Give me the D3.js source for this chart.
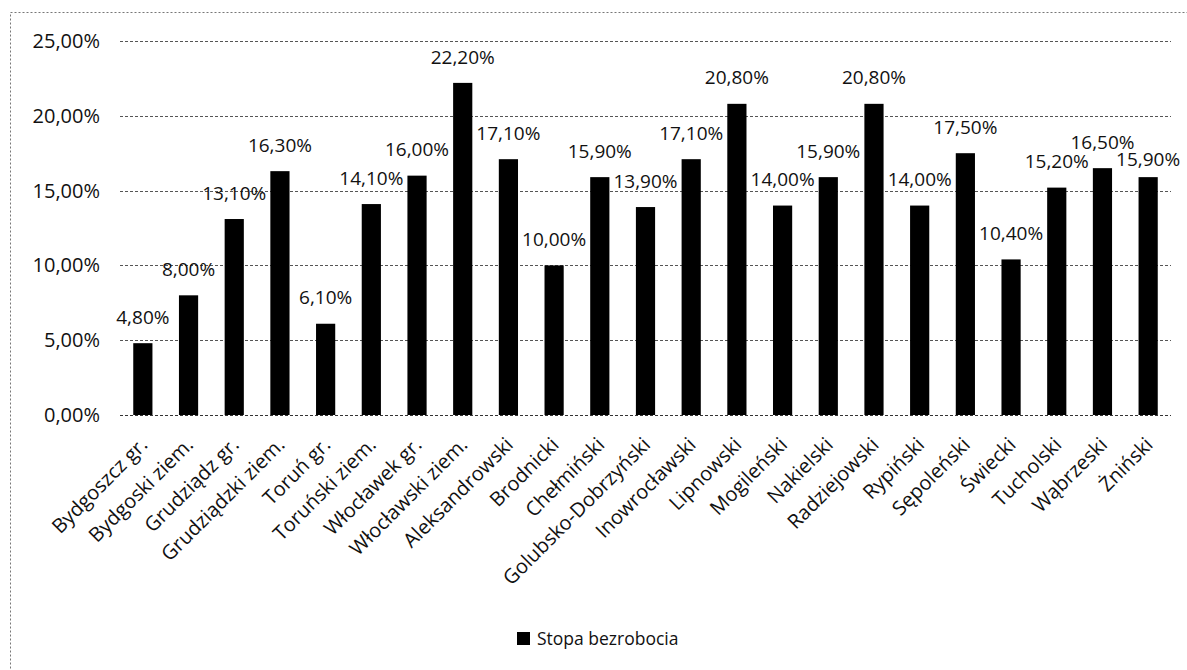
<!DOCTYPE html>
<html lang="pl">
<head>
<meta charset="utf-8">
<title>Stopa bezrobocia</title>
<script src="https://d3js.org/d3.v7.min.js"></script>
<style>
  body { margin: 0; background: #fff; }
  text { font-family: "Open Sans", sans-serif; fill: #111; }
</style>
</head>
<body>
<script>
// categories (powiaty) and unemployment rate in %
var powiaty = ["Bydgoszcz gr.", "Bydgoski ziem.", "Grudziądz gr.", "Grudziądzki ziem.",
  "Toruń gr.", "Toruński ziem.", "Włocławek gr.", "Włocławski ziem.", "Aleksandrowski",
  "Brodnicki", "Chełmiński", "Golubsko-Dobrzyński", "Inowrocławski", "Lipnowski",
  "Mogileński", "Nakielski", "Radziejowski", "Rypiński", "Sępoleński", "Świecki",
  "Tucholski", "Wąbrzeski", "Żniński"];
var stopa = [4.8, 8.0, 13.1, 16.3, 6.1, 14.1, 16.0, 22.2, 17.1, 10.0, 15.9, 13.9,
  17.1, 20.8, 14.0, 15.9, 20.8, 14.0, 17.5, 10.4, 15.2, 16.5, 15.9];
var yTicks = [0, 5, 10, 15, 20, 25];
var seriesName = "Stopa bezrobocia";

var W = 1187, H = 670;
var margin = {top: 41, right: 16, bottom: 255, left: 120};
var width = W - margin.left - margin.right,
    height = H - margin.top - margin.bottom;

var fmt = function(v) { return v.toFixed(2).replace(".", ",") + "%"; };

var svg = d3.select("body").append("svg")
    .attr("width", W).attr("height", H);

// outer dashed frame (right/bottom edges fall outside the view)
svg.append("rect")
    .attr("x", 10.5).attr("y", 12.5)
    .attr("width", 1200).attr("height", 700)
    .attr("fill", "none").attr("stroke", "#777")
    .attr("stroke-width", 1).attr("stroke-dasharray", "2,2");

var g = svg.append("g")
    .attr("transform", "translate(" + margin.left + "," + margin.top + ")");

var x = d3.scaleBand().domain(powiaty).range([0, width]).paddingInner(0.58).paddingOuter(0.29);
var y = d3.scaleLinear().domain([0, 25]).range([height, 0]);

// gridlines
g.selectAll(".grid").data(yTicks).enter().append("line")
    .attr("x1", 0).attr("x2", width)
    .attr("y1", function(d) { return Math.round(y(d)) + 0.5; })
    .attr("y2", function(d) { return Math.round(y(d)) + 0.5; })
    .attr("stroke", function(d) { return d === 0 ? "#333" : "#555"; })
    .attr("stroke-width", 1)
    .attr("stroke-dasharray", "3,2");

// y axis labels
var yAxis = d3.axisLeft(y).tickValues(yTicks).tickSize(0).tickPadding(20)
    .tickFormat(fmt);
g.append("g").call(yAxis)
    .call(function(s) { s.select(".domain").remove(); })
    .selectAll("text")
    .style("font-size", "20px")
    .style("font-family", "'Open Sans', sans-serif")
    .attr("fill", "#111");

// bars
g.selectAll(".bar").data(stopa).enter().append("rect")
    .attr("class", "bar")
    .attr("x", function(d, i) { return x(powiaty[i]); })
    .attr("width", x.bandwidth())
    .attr("y", function(d) { return y(d); })
    .attr("height", function(d) { return height - y(d); })
    .attr("fill", "#000");

// data labels, pushed down when they would collide with the previous one
var labelH = 17, prevY = null;
var lblY = stopa.map(function(d) {
    var ly = y(d) - 26;
    if (prevY !== null && Math.abs(ly - prevY) < labelH && ly >= prevY - labelH) {
        ly = Math.max(ly, prevY + labelH);
    }
    prevY = ly;
    return ly;
});
g.selectAll(".lbl").data(stopa).enter().append("text")
    .attr("class", "lbl")
    .attr("x", function(d, i) { return x(powiaty[i]) + x.bandwidth() / 2; })
    .attr("y", function(d, i) { return lblY[i]; })
    .attr("dy", "0.35em")
    .attr("text-anchor", "middle")
    .style("font-size", "19px")
    .text(fmt);

// category labels rotated
var xAxis = d3.axisBottom(x).tickSize(0).tickPadding(0);
g.append("g").attr("transform", "translate(0," + height + ")").call(xAxis)
    .call(function(s) { s.select(".domain").remove(); })
    .selectAll("text")
    .style("font-size", "20px")
    .style("font-family", "'Open Sans', sans-serif")
    .attr("fill", "#111")
    .attr("text-anchor", "end")
    .attr("y", 0)
    .attr("dy", 0)
    .attr("transform", "translate(6,31) rotate(-45)");

// legend
var leg = svg.append("g").attr("transform", "translate(517,638)");
leg.append("rect").attr("x", 0).attr("y", -6).attr("width", 13).attr("height", 13).attr("fill", "#000");
leg.append("text").attr("x", 20).attr("y", 1).attr("dy", "0.35em")
    .style("font-size", "17.5px").text(seriesName);
</script>
</body>
</html>
